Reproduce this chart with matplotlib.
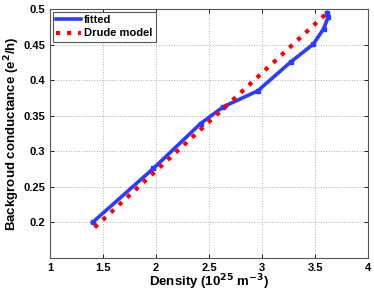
import numpy as np
import matplotlib
matplotlib.use('Agg')
import matplotlib.pyplot as plt

plt.rcParams['font.family'] = ['Liberation Sans', 'DejaVu Sans']
plt.rcParams['font.weight'] = 'bold'
plt.rcParams['mathtext.default'] = 'bf'

# fitted background conductance vs density
density = [1.40, 1.975, 2.42, 2.635, 2.96, 3.27, 3.485, 3.58, 3.626, 3.61]
conductance = [0.200, 0.276, 0.339, 0.3626, 0.385, 0.4255, 0.4508, 0.472, 0.489, 0.495]

# Drude model line endpoints
drude_x = [1.42, 3.61]
drude_y = [0.193, 0.494]

fig = plt.figure(figsize=(3.74, 2.94), dpi=100)
ax = fig.add_axes([0.134, 0.1224, 0.85, 0.847])

blue = '#2a3cff'
ax.plot(density, conductance, '-', color=blue, lw=2.6, label='fitted')
ax.plot(density, conductance, 's', color=blue, markersize=3.2)
ax.plot(drude_x, drude_y, ':', color='#ff0000', lw=3.0, label='Drude model')

ax.set_xlim(1, 4)
ax.set_ylim(0.15, 0.5)
ax.set_xticks([1, 1.5, 2, 2.5, 3, 3.5, 4])
ax.set_xticklabels(['1', '1.5', '2', '2.5', '3', '3.5', '4'])
ax.set_yticks([0.2, 0.25, 0.3, 0.35, 0.4, 0.45, 0.5])
ax.set_yticklabels(['0.2', '0.25', '0.3', '0.35', '0.4', '0.45', '0.5'])
ax.tick_params(direction='in', labelsize=8, length=3, width=0.6, top=True, right=True)
ax.grid(True, linestyle=':', color='#b0b0b0', lw=0.7)
for s in ax.spines.values():
    s.set_color('#555555')
    s.set_linewidth(0.8)

ax.set_xlabel('Density (10$^{25}$ m$^{-3}$)', fontsize=9.5, fontweight='bold', labelpad=0)
ax.set_ylabel('Backgroud conductance (e$^2$/h)', fontsize=9.5, fontweight='bold', labelpad=1)

leg = ax.legend(loc='upper left', fontsize=8, handlelength=2.2, borderaxespad=0.25,
                fancybox=False, framealpha=1, borderpad=0.3, labelspacing=0.3,
                handletextpad=0.3)
leg.get_frame().set_edgecolor('#555555')
leg.get_frame().set_linewidth(0.8)

fig.savefig('out.png', dpi=100)
